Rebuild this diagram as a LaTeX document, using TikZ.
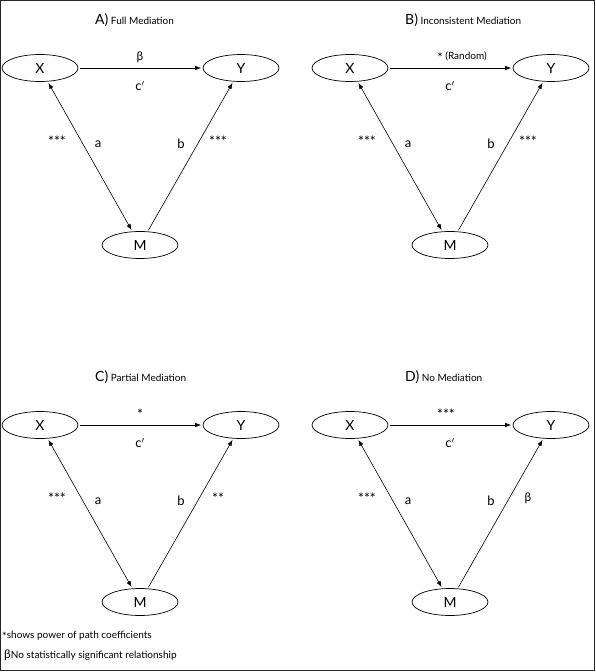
\documentclass[tikz,border=0pt]{standalone}
\usepackage{fontspec}
\setmainfont{Lato}
\usetikzlibrary{arrows.meta,shapes.geometric}
\newcommand\lowstar[1]{\raisebox{-0.5ex}{#1}}
\tikzset{
  var/.style={draw, ellipse, line width=0.7pt, minimum width=76pt, minimum height=27pt, inner sep=0pt, font=\fontsize{14}{16}\selectfont},
  path/.style={line width=0.6pt, -{Latex[length=6pt,width=4.5pt]}, shorten >=1.5pt, shorten <=1.5pt},
  bipath/.style={line width=0.6pt, {Latex[length=6pt,width=4.5pt]}-{Latex[length=6pt,width=4.5pt]}, shorten >=1.5pt, shorten <=1.5pt},
  lbl/.style={inner sep=0pt, font=\fontsize{13}{15}\selectfont},
  star/.style={inner sep=0pt, font=\fontsize{14}{16}\selectfont},
  ttl/.style={inner sep=0pt, anchor=west},
  note/.style={inner sep=0pt, anchor=west, font=\fontsize{10}{12}\selectfont}
}
\newcommand\mypanel[9]{%
  \begin{scope}[shift={(#1,#2)}, name prefix=#3-]
    \node[ttl] (T) at (95,20) {{\fontsize{14}{16}\selectfont #4)} {\fontsize{10}{12}\selectfont #5}};
    \node[var] (X) at (40,68) {X};
    \node[var] (Y) at (241,68) {Y};
    \node[var] (M) at (140,245) {M};
    \draw[path] (X) -- (Y);
    \draw[bipath] (X) -- (M);
    \draw[path] (M) -- (Y);
    \node[star] (top) at (#7,57) {#6};
    \node[lbl] (c) at (140,86) {c$'$};
    \node[star] (ls) at (57,141) {#8};
    \node[lbl] (a) at (98,144) {a};
    \node[lbl] (b) at (181,144) {b};
    \node[star] (rs) at (218,141) {#9};
  \end{scope}}
\begin{document}
\begin{tikzpicture}[x=1pt,y=-1pt]
\useasboundingbox (0,0) rectangle (596,672);
\draw[line width=1.4pt, black!85] (0.7,0.7) rectangle (594.6,670.4);
\mypanel{0}{0}{A}{A}{Full Mediation}{{\fontsize{12}{14}\selectfont β}}{140}{\lowstar{***}}{\lowstar{***}}
\mypanel{310}{0}{B}{B}{Inconsistent Mediation}{{\fontsize{10}{12}\selectfont{\fontsize{13}{14}\selectfont\lowstar{*}} (Random)}}{152}{\lowstar{***}}{\lowstar{***}}
\mypanel{0}{357}{C}{C}{Partial Mediation}{\lowstar{*}}{140}{\lowstar{***}}{\lowstar{**}}
\mypanel{310}{357}{D}{D}{No Mediation}{\lowstar{***}}{136}{\lowstar{***}}{{\fontsize{12}{14}\selectfont β}}
\node[note] (n1) at (2,636) {{\fontsize{11}{10}\selectfont\raisebox{-0.3ex}{*}}shows power of path coefficients};
\node[note] (n2) at (4,655) {{\fontsize{12}{12}\selectfont β}No statistically significant relationship};
\end{tikzpicture}
\end{document}
